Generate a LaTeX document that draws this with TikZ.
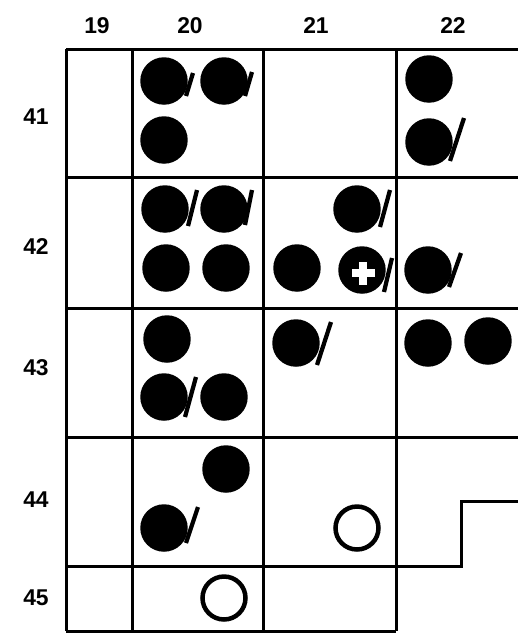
\documentclass[tikz,border=0pt]{standalone}
\usepackage{fontspec}
\setmainfont{Liberation Sans}
\usepackage{tikz}

\begin{document}
\begin{tikzpicture}[x=0.02cm, y=-0.02cm,
    fullmark/.style={circle, fill=black, inner sep=0pt, minimum size=0.95cm},
    openmark/.style={circle, draw=black, line width=0.09cm, inner sep=0pt, minimum size=0.86cm},
    slashmark/.style={line width=0.085cm},
    gridline/.style={line width=0.06cm},
    numlabel/.style={font=\fontsize{13}{15}\selectfont\bfseries}]
    \useasboundingbox (0,0) rectangle (518,633);
    \fill[white] (0,0) rectangle (518,633);

    \foreach \y in {49,177,308,437} \draw[gridline] (66,\y) -- (518,\y);
    \draw[gridline] (66,566) -- (461,566) -- (461,501) -- (518,501);
    \draw[gridline] (66,631) -- (396,631);
    \foreach \x in {66,132,263,396} \draw[gridline] (\x,49) -- (\x,631);

    \foreach \c/\x in {19/97,20/190,21/316,22/453} \node[numlabel] (col\c) at (\x,26) {\c};
    \foreach \r/\y in {41/117,42/247,43/368,44/500,45/598} \node[numlabel] (row\r) at (36,\y) {\r};

    \node[fullmark] (a) at (164,81) {};
    \node[fullmark] (b) at (224,81) {};
    \node[fullmark] (c) at (164,140) {};
    \node[fullmark] (d) at (429,79) {};
    \node[fullmark] (e) at (429,142) {};

    \node[fullmark] (f) at (165,209) {};
    \node[fullmark] (g) at (224,209) {};
    \node[fullmark] (h) at (166,268) {};
    \node[fullmark] (i) at (226,268) {};
    \node[fullmark] (j) at (357,209) {};
    \node[fullmark] (k) at (297,268) {};
    \node[fullmark] (l) at (362,270) {};
    \node[fullmark] (m) at (428,270) {};

    \node[fullmark] (n) at (167,339) {};
    \node[fullmark] (o) at (164,397) {};
    \node[fullmark] (p) at (224,397) {};
    \node[fullmark] (q) at (296,343) {};
    \node[fullmark] (r) at (428,343) {};
    \node[fullmark] (s) at (488,341) {};

    \node[fullmark] (t) at (226,469) {};
    \node[fullmark] (u) at (164,528) {};
    \node[openmark] (v) at (357,528) {};
    \node[openmark] (w) at (224,598) {};

    \draw[slashmark] ([shift={(22,15)}]a.center) -- ([shift={(29,-8)}]a.center);
    \draw[slashmark] ([shift={(21,15)}]b.center) -- ([shift={(28,-9)}]b.center);
    \draw[slashmark] ([shift={(21,19)}]e.center) -- ([shift={(35,-24)}]e.center);
    \draw[slashmark] ([shift={(23,17)}]f.center) -- ([shift={(32,-19)}]f.center);
    \draw[slashmark] ([shift={(21,16)}]g.center) -- ([shift={(28,-19)}]g.center);
    \draw[slashmark] ([shift={(23,18)}]j.center) -- ([shift={(33,-19)}]j.center);
    \draw[slashmark] ([shift={(22,22)}]l.center) -- ([shift={(30,-12)}]l.center);
    \draw[slashmark] ([shift={(21,17)}]m.center) -- ([shift={(33,-17)}]m.center);
    \draw[slashmark] ([shift={(21,20)}]o.center) -- ([shift={(32,-20)}]o.center);
    \draw[slashmark] ([shift={(21,22)}]q.center) -- ([shift={(35,-21)}]q.center);
    \draw[slashmark] ([shift={(22,15)}]u.center) -- ([shift={(34,-21)}]u.center);

    \fill[white] ([shift={(-10,-1)}]l.center) rectangle ([shift={(13,7)}]l.center);
    \fill[white] ([shift={(-3,-8)}]l.center) rectangle ([shift={(5,15)}]l.center);
\end{tikzpicture}
\end{document}
